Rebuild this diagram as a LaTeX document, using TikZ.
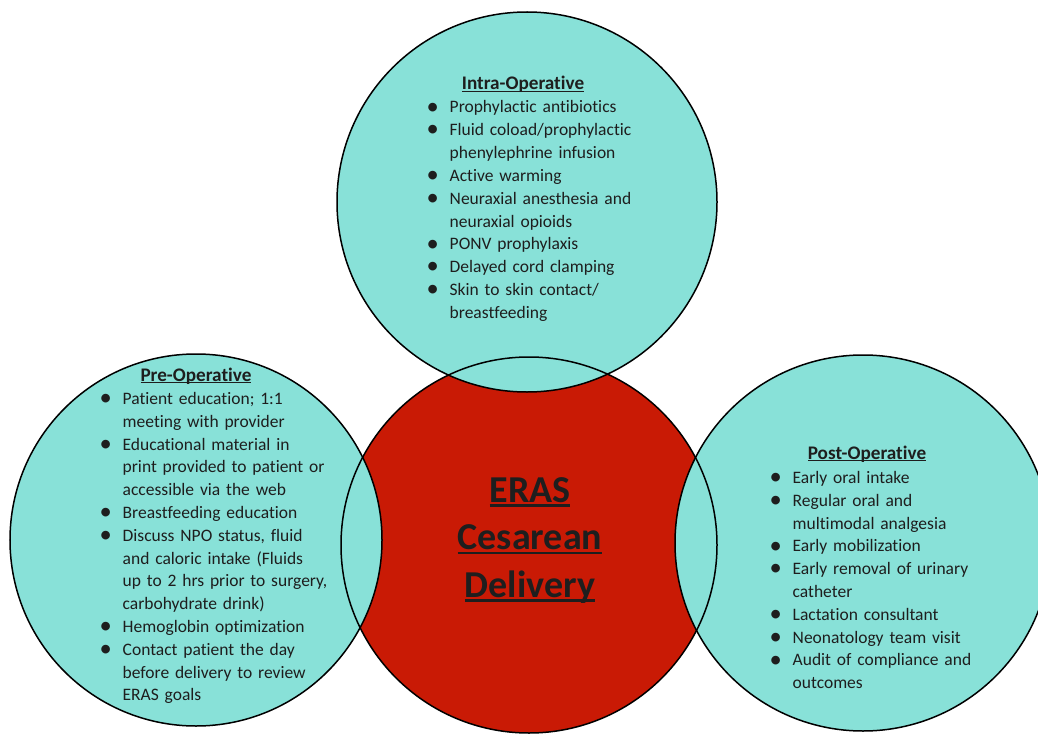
\documentclass[tikz,border=0pt]{standalone}
\usepackage{fontspec}
\setmainfont{Carlito}[Ligatures=NoCommon]
\definecolor{tealfill}{RGB}{136,225,216}
\definecolor{redfill}{RGB}{201,26,5}
\definecolor{txt}{RGB}{30,30,30}
\newsavebox\ulbox
\newcommand{\ulx}[1]{\sbox\ulbox{#1}\rlap{\rule[-0.12em]{\wd\ulbox}{0.065em}}\usebox\ulbox}
\newcommand{\nl}{\break}
\newcommand{\itm}[1]{\par\hangindent=23bp\hangafter=1\noindent\strut\makebox[23bp][l]{\raisebox{-1.2bp}{\scalebox{1.4}{\textbullet}}}#1}
\tikzset{
  fillcirc/.style={circle, inner sep=0pt, minimum size=#1, draw=none},
  body/.style={anchor=north west, inner sep=0pt, text width=300bp, align=left, text=txt,
    font=\fontsize{17.5bp}{22.8bp}\selectfont},
  head/.style={anchor=base, inner sep=0pt, text=txt, font=\fontsize{19.2bp}{22.8bp}\selectfont\bfseries},
  big/.style={anchor=base, inner sep=0pt, text=txt, font=\fontsize{38bp}{47bp}\selectfont\bfseries}
}
\begin{document}
\begin{tikzpicture}[x=1bp,y=-1bp]
\useasboundingbox (0,0) rectangle (1038,737);
% fills
\node[fillcirc=376bp, fill=redfill] (red) at (529,545) {};
\node[fillcirc=380bp, fill=tealfill] (intra) at (527,202) {};
\node[fillcirc=372bp, fill=tealfill] (pre) at (196,540) {};
\node[fillcirc=376bp, fill=tealfill] (post) at (863,543) {};
% outlines
\begin{scope}[line width=1.5bp, draw=black]
\draw (red.center) circle[radius=188bp];
\draw (intra.center) circle[radius=190bp];
\draw (pre.center) circle[radius=186bp];
\draw (post.center) circle[radius=188bp];
\end{scope}
% headings
\node[head] (hintra) at (523,90) {\ulx{Intra-Operative}};
\node[head] (hpre) at (196,381) {\ulx{Pre-Operative}};
\node[head] (hpost) at (867,459) {\ulx{Post-Operative}};
% lists
\node[body] (lintra) at (426.5,90) {%
\itm{Prophylactic antibiotics}
\itm{Fluid coload/prophylactic\nl phenylephrine infusion}
\itm{Active warming}
\itm{Neuraxial anesthesia and\nl neuraxial opioids}
\itm{PONV prophylaxis}
\itm{Delayed cord clamping}
\itm{Skin to skin contact/\nl breastfeeding}\par};
\node[body] (lpre) at (99.5,381.5) {%
\itm{Patient education; 1:1\nl meeting with provider}
\itm{Educational material in\nl print provided to patient or\nl accessible via the web}
\itm{Breastfeeding education}
\itm{Discuss NPO status, fluid\nl and caloric intake (Fluids\nl up to 2 hrs prior to surgery,\nl carbohydrate drink)}
\itm{Hemoglobin optimization}
\itm{Contact patient the day\nl before delivery to review\nl ERAS goals}\par};
\node[body] (lpost) at (769.5,460.5) {%
\itm{Early oral intake}
\itm{Regular oral and\nl multimodal analgesia}
\itm{Early mobilization}
\itm{Early removal of urinary\nl catheter}
\itm{Lactation consultant}
\itm{Neonatology team visit}
\itm{Audit of compliance and\nl outcomes}\par};
% center title
\node[big] (t1) at (530,502) {\ulx{ERAS}};
\node[big] (t2) at (530,549.5) {\ulx{Cesarean}};
\node[big] (t3) at (530,597) {\ulx{Delivery}};
\end{tikzpicture}
\end{document}
